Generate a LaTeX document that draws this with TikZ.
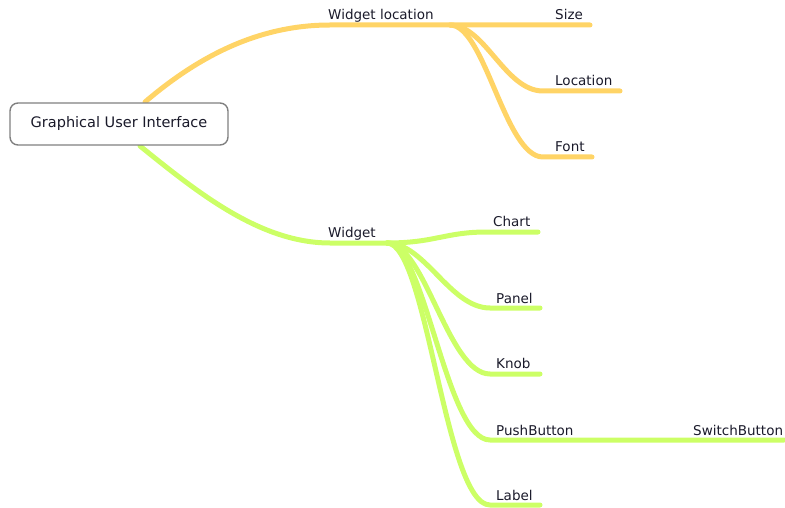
\documentclass[tikz,border=0pt]{standalone}
\usepackage{fontspec}
\setmainfont{DejaVu Sans}
\definecolor{orangeb}{HTML}{FFD466}
\definecolor{greenb}{HTML}{CCFF66}
\definecolor{txt}{HTML}{1A1A2A}
\begin{document}
\begin{tikzpicture}[x=1pt,y=-1pt,
  lbl/.style={anchor=base west,inner sep=0pt,text=txt,font=\fontsize{13.5}{16}\selectfont},
  obr/.style={draw=orangeb,line width=5pt,line cap=round},
  gbr/.style={draw=greenb,line width=5pt,line cap=round},
  rootbox/.style={draw=black!50,line width=1.4pt,rounded corners=8pt,fill=white,
    minimum width=218pt,minimum height=42pt,text=txt,font=\fontsize{14.5}{17}\selectfont}]
\useasboundingbox (0,0) rectangle (785,508);
% coordinates
\coordinate (rootT) at (145,102);
\coordinate (rootB) at (140,146);
\coordinate (wl) at (330,25);
\coordinate (wlj) at (450,25);
\coordinate (sizeE) at (590,25);
\coordinate (locS) at (543,91);
\coordinate (locE) at (620,91);
\coordinate (fontS) at (543,157);
\coordinate (fontE) at (592,157);
\coordinate (wg) at (330,243);
\coordinate (wgj) at (387,243);
\coordinate (chartS) at (487,232);
\coordinate (chartE) at (538,232);
\coordinate (panelS) at (490,308);
\coordinate (panelE) at (540,308);
\coordinate (knobS) at (490,374);
\coordinate (knobE) at (540,374);
\coordinate (pbS) at (490,440);
\coordinate (pbE) at (580,440);
\coordinate (sbE) at (784,440);
\coordinate (labS) at (490,505);
\coordinate (labE) at (540,505);
% orange branch
\draw[obr] (rootT) .. controls (200,55) and (260,25) .. (wl) -- (wlj) -- (sizeE);
\draw[obr] (wlj) .. controls (485,25) and (505,91) .. (locS) -- (locE);
\draw[obr] (wlj) .. controls (485,25) and (505,157) .. (fontS) -- (fontE);
% green branch
\draw[gbr] (rootB) .. controls (197,192) and (260,243) .. (wg) -- (wgj);
\draw[gbr] (wgj) .. controls (435,243) and (445,232) .. (chartS) -- (chartE);
\draw[gbr] (wgj) .. controls (425,243) and (450,308) .. (panelS) -- (panelE);
\draw[gbr] (wgj) .. controls (425,243) and (448,374) .. (knobS) -- (knobE);
\draw[gbr] (wgj) .. controls (425,243) and (446,440) .. (pbS) -- (pbE) -- (sbE);
\draw[gbr] (wgj) .. controls (427,243) and (445,505) .. (labS) -- (labE);
% root
\node[rootbox] (root) at (119,124) {Graphical User Interface};
% labels
\node[lbl] (nwl) at (328,20) {Widget location};
\node[lbl] (nsize) at (555,20) {Size};
\node[lbl] (nloc) at (555,86) {Location};
\node[lbl] (nfont) at (555,152) {Font};
\node[lbl] (nwg) at (328,237) {Widget};
\node[lbl] (nchart) at (493,226) {Chart};
\node[lbl] (npanel) at (496,303) {Panel};
\node[lbl] (nknob) at (496,368) {Knob};
\node[lbl] (npb) at (496,435) {PushButton};
\node[lbl] (nlab) at (496,500) {Label};
\node[lbl] (nsb) at (693,435) {SwitchButton};
\end{tikzpicture}
\end{document}
